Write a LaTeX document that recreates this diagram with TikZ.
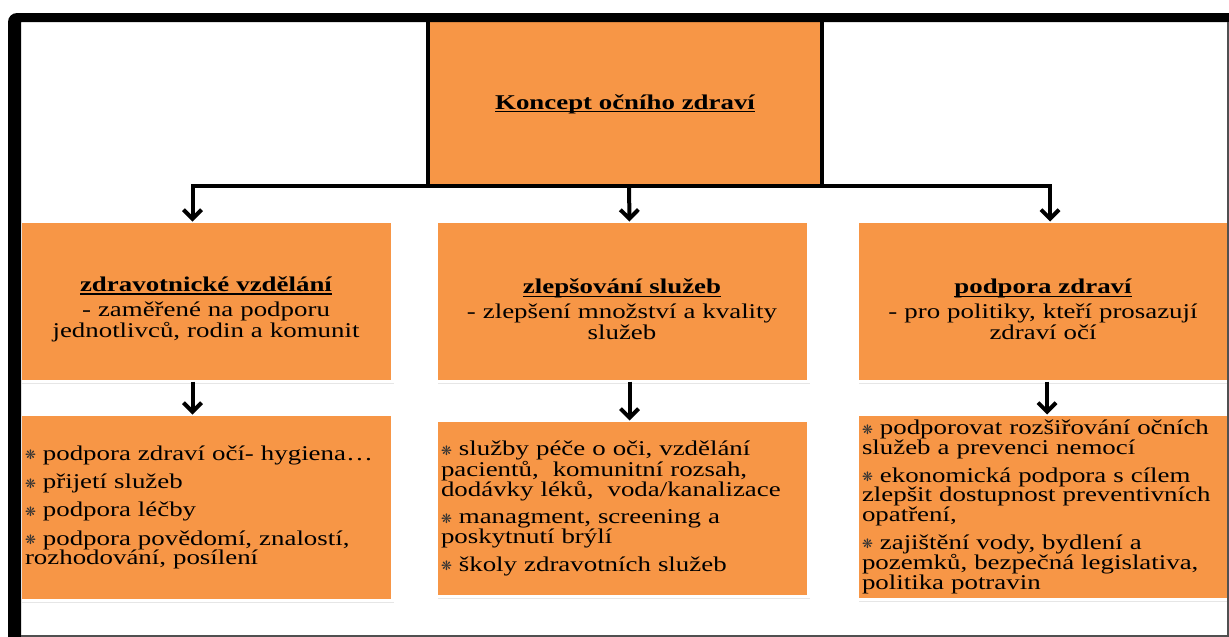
\documentclass[tikz,border=0pt]{standalone}
\usepackage{fontspec}
\setmainfont{Liberation Serif}[FakeStretch=1.28]
\newfontfamily\dingfont{DejaVu Sans}
\usepackage{tikz}
\usetikzlibrary{arrows.meta,positioning,shadows}
\definecolor{boxorange}{HTML}{F79646}
\definecolor{framegray}{HTML}{505050}
\newcommand{\ulhead}[1]{\rule{0pt}{31pt}\setbox0\hbox{\bfseries #1}\rlap{\rule[-3pt]{\wd0}{1.3pt}}\box0}
\newcommand{\itemmark}{\raisebox{0.5pt}{\dingfont\fontsize{13}{13}\selectfont\color{black!80}❋}\ }
\tikzstyle{topblock} = [rectangle, fill=boxorange, minimum width=394pt, minimum height=164pt, inner sep=0pt, outer sep=0pt, font=\fontsize{21}{21}\selectfont]
\tikzstyle{midblock} = [rectangle, fill=boxorange, draw=white, line width=3pt, minimum width=372pt, minimum height=160pt, text width=362pt, align=center, inner sep=5pt, outer sep=0pt, drop shadow={shadow xshift=2pt, shadow yshift=-2.5pt, opacity=0.2}, font=\fontsize{21}{21}\selectfont]
\tikzstyle{lowblock} = [midblock, align=left, font=\fontsize{21}{19.7}\selectfont]
\tikzstyle{link} = [line width=4pt, -{Straight Barb[length=9pt,width=18pt]}]
\tikzstyle{heavy} = [line width=4pt]
\begin{document}
\begin{tikzpicture}[x=1pt,y=-1pt,node distance=33pt and 44pt]
\useasboundingbox (0,0) rectangle (1229,637);
% concept on top
\node [topblock] (concept) at (625,104) {\setbox0\hbox{\bfseries Koncept očního zdraví}\rlap{\rule[-3pt]{\wd0}{1.3pt}}\box0};
\draw[heavy] (concept.north west) -- ([yshift=-2pt]concept.south west);
\draw[heavy] (concept.north east) -- ([yshift=-2pt]concept.south east);

% three areas
\node [midblock] (edu) at (206,301.5) {\ulhead{zdravotnické vzdělání}\\[4pt]
  - zaměřené na podporu\\ jednotlivců, rodin a komunit};
\node [midblock, right=44pt of edu] (serv) {\ulhead{zlepšování služeb}\\[4pt]
  - zlepšení množství a kvality\\ služeb};
\node [midblock, right=49pt of serv] (prom) {\ulhead{podpora zdraví}\\[4pt]
  - pro politiky, kteří prosazují\\ zdraví očí};

% lists
\node [lowblock, below=33pt of edu, minimum height=186pt] (edulist) {\itemmark podpora zdraví očí- hygiena…\\[8.5pt]
  \itemmark přijetí služeb\\[8.5pt]
  \itemmark podpora léčby\\[8.5pt]
  \itemmark podpora povědomí, znalostí,\\ rozhodování, posílení};
\node [lowblock, below=39pt of serv, minimum height=176pt] (servlist) {\itemmark služby péče o oči, vzdělání\\ pacientů,~ komunitní rozsah,\\ dodávky léků,~ voda/kanalizace\\[8pt]
  \itemmark managment, screening a\\ poskytnutí brýlí\\[8pt]
  \itemmark školy zdravotních služeb};
\node [lowblock, below=33pt of prom, minimum height=185pt] (promlist) {\itemmark podporovat rozšiřování očních\\ služeb a prevenci nemocí\\[8pt]
  \itemmark ekonomická podpora s cílem\\ zlepšit dostupnost preventivních\\ opatření,\\[8pt]
  \itemmark zajištění vody, bydlení a\\ pozemků, bezpečná legislativa,\\ politika potravin};

\draw[link] (concept.south) -| ([xshift=-13.5pt]edu.north);
\draw[link] ([xshift=4pt]concept.south) -- ([xshift=7.5pt]serv.north);
\draw[link] (concept.south) -| ([xshift=7pt]prom.north);

\draw[link] ([xshift=-13.5pt]edu.south) -- ([xshift=-13.5pt]edulist.north);
\draw[link] ([xshift=7.5pt]serv.south) -- ([xshift=7.5pt]servlist.north);
\draw[link] ([xshift=4pt]prom.south) -- ([xshift=4pt]promlist.north);

% frame
\fill (8,637) [rounded corners=9pt] -- (8,13) [sharp corners] -- (1229,13) -- (1229,22) -- (21,22) -- (21,637) -- cycle;
\draw[framegray, line width=1.5pt] (1228.2,22) -- (1228.2,636.2) -- (21,636.2);
\end{tikzpicture}
\end{document}
